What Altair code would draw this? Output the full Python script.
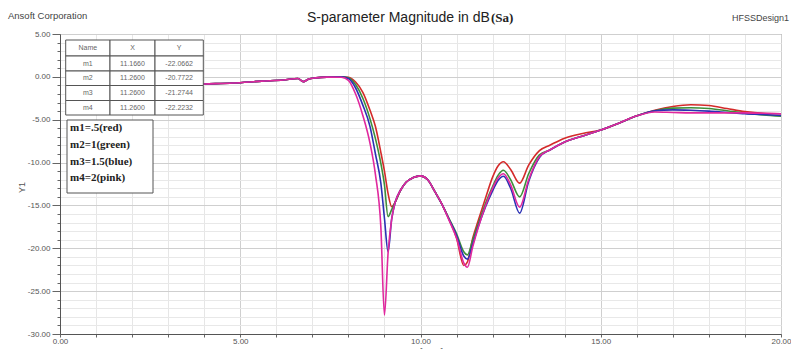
import altair as alt
import pandas as pd

# ---------------- data ----------------
freq = [1.0, 2.0, 3.0, 4.0, 4.8, 5.6, 6.2, 6.6, 6.75, 6.9,
        7.1, 7.4, 7.8, 8.0, 8.2, 8.4, 8.6, 8.75, 8.9, 9.0,
        9.1, 9.2, 9.3, 9.45, 9.6, 9.8, 10.0, 10.2, 10.4, 10.6,
        10.8, 11.0, 11.2, 11.3, 11.45, 11.6, 11.8, 12.0, 12.15, 12.3,
        12.5, 12.75, 13.0, 13.3, 13.6, 14.0, 14.5, 15.0, 15.5, 16.0,
        16.5, 17.0, 17.5, 18.0, 18.5, 19.0, 19.5, 20.0]

m1_red = [-1.4, -1.2, -1.0, -0.83, -0.72, -0.5, -0.36, -0.2, -0.56, -0.25,
          -0.12, -0.03, 0.0, -0.05, -0.6, -1.8, -3.9, -5.8, -8.8, -11.0,
          -13.6, -15.15, -14.6, -13.2, -12.3, -11.75, -11.55, -12.0, -13.4, -14.9,
          -16.7, -18.8, -22.0, -21.6, -18.8, -16.8, -14.2, -11.7, -10.4, -9.9,
          -10.8, -12.4, -10.3, -8.6, -7.95, -7.15, -6.6, -6.2, -5.4, -4.55,
          -3.9, -3.45, -3.25, -3.35, -3.7, -4.05, -4.25, -4.3]

m2_green = [-1.4, -1.2, -1.0, -0.83, -0.72, -0.5, -0.36, -0.2, -0.56, -0.25,
            -0.12, -0.03, 0.0, -0.1, -0.9, -2.5, -4.9, -7.2, -10.1, -12.6,
            -16.3, -15.5, -14.6, -13.2, -12.3, -11.75, -11.55, -12.0, -13.4, -14.9,
            -16.6, -18.3, -20.4, -20.77, -19.0, -17.2, -14.8, -12.8, -11.5, -10.9,
            -12.0, -14.0, -11.3, -9.1, -8.5, -7.6, -6.9, -6.2, -5.4, -4.55,
            -3.95, -3.65, -3.6, -3.7, -3.95, -4.25, -4.45, -4.6]

m3_blue = [-1.4, -1.2, -1.0, -0.83, -0.72, -0.5, -0.36, -0.2, -0.56, -0.25,
           -0.12, -0.03, 0.0, -0.2, -1.3, -3.3, -5.8, -9.0, -12.4, -16.5,
           -20.4, -16.6, -14.6, -13.2, -12.3, -11.75, -11.55, -12.0, -13.4, -14.9,
           -16.7, -18.5, -20.9, -21.27, -19.5, -17.5, -15.2, -13.3, -12.1, -11.6,
           -13.0, -15.9, -12.2, -9.4, -8.5, -7.6, -6.9, -6.2, -5.4, -4.55,
           -3.95, -3.85, -3.9, -4.0, -4.15, -4.3, -4.4, -4.5]

m4_pink = [-1.4, -1.2, -1.0, -0.83, -0.72, -0.5, -0.36, -0.2, -0.56, -0.25,
           -0.12, -0.03, -0.05, -0.4, -2.0, -4.5, -7.75, -11.4, -17.5, -27.8,
           -20.6, -16.6, -14.6, -13.2, -12.3, -11.75, -11.55, -12.0, -13.4, -14.9,
           -16.8, -18.8, -21.7, -22.22, -19.8, -17.6, -15.1, -13.0, -11.8, -11.3,
           -12.6, -15.2, -12.0, -9.3, -8.5, -7.6, -6.9, -6.2, -5.4, -4.55,
           -4.1, -4.15, -4.2, -4.2, -4.2, -4.2, -4.25, -4.3]

series_names = ["m1", "m2", "m3", "m4"]
series_colors = ["#d42a2a", "#3e8e3a", "#2b30b4", "#e0289e"]

table_header = ["Name", "X", "Y"]
table_names = ["m1", "m2", "m3", "m4"]
table_x = ["11.1660", "11.2600", "11.2600", "11.2600"]
table_y = ["-22.0662", "-20.7722", "-21.2744", "-22.2232"]

legend_lines = ["m1=.5(red)", "m2=1(green)", "m3=1.5(blue)", "m4=2(pink)"]

title_main = "S-parameter Magnitude in dB"
title_part = "(Sa)"
corner_left = "Ansoft Corporation"
corner_right = "HFSSDesign1"

# ---------------- build tables ----------------
rows = []
for name, vals in zip(series_names, [m1_red, m2_green, m3_blue, m4_pink]):
    for f, v in zip(freq, vals):
        rows.append({"freq": f, "dB": v, "series": name})
df = pd.DataFrame(rows)

SANS = "Liberation Sans"
SERIF = "Liberation Serif"
W, H = 721, 300

major = "datum.value % 5 === 0"
lab_expr = ("datum.value % 5 === 0 ? (datum.value < 0 ? '-' : '') + "
            "format(abs(datum.value), '.2f') : ''")

x_axis = alt.Axis(
    values=list(range(0, 21)), labelExpr=lab_expr, labelFont=SANS,
    labelFontSize=8, labelColor="#555", labelPadding=0, labelFlush=False,
    tickColor="#666", tickSize=3,
    domainColor="#555",
    gridColor={"condition": {"test": major, "value": "#cfcfcf"}, "value": "#e6e6e6"},
    title="Freq [GHz]", titleFont=SANS, titleFontSize=9, titleFontWeight="normal",
    titleColor="#555", titleY=13, titleBaseline="top",
)
y_axis = alt.Axis(
    values=list(range(-30, 6)), labelExpr=lab_expr, labelFont=SANS,
    labelFontSize=8, labelColor="#555", labelPadding=2,
    tickColor="#666", tickSize={"condition": {"test": major, "value": 8}, "value": 3},
    domainColor="#555",
    gridColor={"condition": {"test": major, "value": "#cfcfcf"}, "value": "#e8e8e8"},
    title="Y1", titleFont=SANS, titleFontSize=9, titleFontWeight="normal",
    titleColor="#555", titleX=-39, titleY=153, titleAlign="center",
    titleBaseline="middle", titleAngle=-90,
)

lines = alt.Chart(df).mark_line(strokeWidth=1.6, interpolate="monotone").encode(
    x=alt.X("freq:Q", scale=alt.Scale(domain=[0, 20], nice=False, zero=False), axis=x_axis),
    y=alt.Y("dB:Q", scale=alt.Scale(domain=[-30, 5], nice=False, zero=False), axis=y_axis),
    color=alt.Color("series:N", scale=alt.Scale(domain=series_names, range=series_colors),
                    legend=None),
)

# marker table (annotation, pixel positioned)
col_edges = [5.7, 50, 95, 143.3]
row_edges = [6, 22, 37, 51.5, 66.5, 81]
cells = []
table_rows = [table_header] + [[n, xv, yv] for n, xv, yv in zip(table_names, table_x, table_y)]
for r, row in enumerate(table_rows):
    for c, txt in enumerate(row):
        cells.append({"x": col_edges[c], "x2": col_edges[c + 1],
                      "y": row_edges[r], "y2": row_edges[r + 1],
                      "xc": (col_edges[c] + col_edges[c + 1]) / 2,
                      "yc": (row_edges[r] + row_edges[r + 1]) / 2, "t": txt})
cells_df = pd.DataFrame(cells)

cell_rects = alt.Chart(cells_df).mark_rect(fill="white", stroke="#555", strokeWidth=1).encode(
    x=alt.X("x:Q", scale=None, axis=None), x2="x2:Q",
    y=alt.Y("y:Q", scale=None, axis=None), y2="y2:Q",
)
cell_text = alt.Chart(cells_df).mark_text(font=SANS, fontSize=7, color="#666",
                                          align="center", baseline="middle").encode(
    x=alt.X("xc:Q", scale=None, axis=None), y=alt.Y("yc:Q", scale=None, axis=None), text="t:N",
)

# legend box
legend_df = pd.DataFrame({"t": legend_lines, "yy": [94, 111, 128, 144]})
legend_box = alt.Chart(pd.DataFrame({"a": [0]})).mark_rect(
    fill="white", stroke="#555", strokeWidth=1).encode(
    x=alt.value(7), x2=alt.value(93), y=alt.value(86), y2=alt.value(159))
legend_text = alt.Chart(legend_df).mark_text(
    font=SERIF, fontSize=11, fontWeight="bold", color="#222", align="left",
    baseline="middle").encode(
    x=alt.value(10), y=alt.Y("yy:Q", scale=None, axis=None), text="t:N")

# titles
t1 = alt.Chart(pd.DataFrame({"t": [title_main]})).mark_text(
    font=SANS, fontSize=14, color="#222", align="left", baseline="alphabetic").encode(
    x=alt.value(247), y=alt.value(-12), text="t:N")
t2 = alt.Chart(pd.DataFrame({"t": [title_part]})).mark_text(
    font=SERIF, fontSize=13, fontWeight="bold", color="#222", align="left",
    baseline="alphabetic").encode(
    x=alt.value(431), y=alt.value(-12), text="t:N")
t3 = alt.Chart(pd.DataFrame({"t": [corner_left]})).mark_text(
    font=SANS, fontSize=9.5, color="#444", align="left", baseline="middle").encode(
    x=alt.value(-52), y=alt.value(-18), text="t:N")
t4 = alt.Chart(pd.DataFrame({"t": [corner_right]})).mark_text(
    font=SANS, fontSize=9, color="#444", align="left", baseline="middle").encode(
    x=alt.value(672), y=alt.value(-16), text="t:N")

chart = alt.layer(lines, cell_rects, cell_text, legend_box, legend_text, t1, t2, t3, t4).properties(
    width=W, height=H,
    autosize=alt.AutoSizeParams(type="none"),
    padding={"left": 60, "top": 34, "right": 10, "bottom": 15},
    background="white",
).configure_view(stroke="#888", strokeWidth=1)

chart.save("out.html", embed_options={"renderer": "svg", "actions": False})
